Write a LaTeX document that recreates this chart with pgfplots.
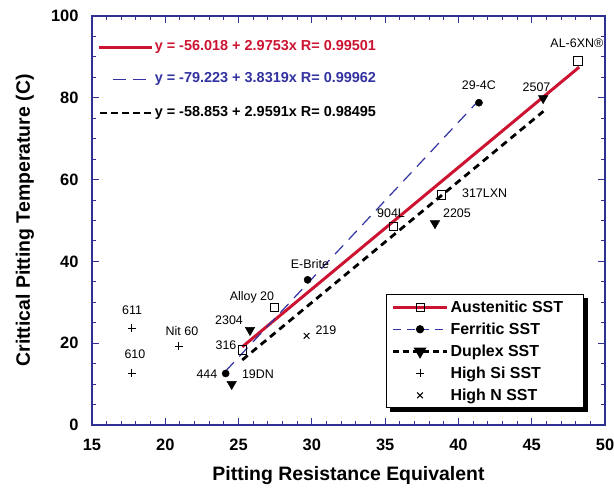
\documentclass[border=0pt]{standalone}
\usepackage{fontspec}
\setmainfont{Liberation Sans}
\usepackage{pgfplots}
\pgfplotsset{compat=1.18}

\definecolor{axisblue}{RGB}{46,49,146}
\definecolor{fitred}{RGB}{204,20,50}
\definecolor{fitblue}{RGB}{50,50,160}

\begin{document}
\begin{tikzpicture}
\path[use as bounding box] (0bp,0bp) rectangle (614bp,495bp);
\begin{axis}[
  at={(92bp,70bp)}, anchor=south west,
  scale only axis, width=513bp, height=409bp,
  xmin=15, xmax=50, ymin=0, ymax=100,
  xtick={15,20,25,30,35,40,45,50}, ytick={0,20,40,60,80,100},
  minor x tick num=4, minor y tick num=3,
  tick align=inside,
  major tick length=7bp, minor tick length=4bp,
  axis line style={draw=axisblue, line width=1.3bp},
  every tick/.append style={draw=axisblue, line width=1bp},
  ticklabel style={font=\bfseries\fontsize{16.5}{16.5}\selectfont, black},
  /pgf/number format/assume math mode=true,
  xticklabel style={yshift=-11bp},
  yticklabel style={xshift=-10bp},
  xlabel={Pitting Resistance Equivalent},
  ylabel={Crittical Pitting Temperature (C)},
  label style={font=\bfseries\fontsize{19.5}{19.5}\selectfont},
  xlabel style={at={(axis description cs:0.5,-0.1247)}, anchor=center},
  ylabel style={at={(axis description cs:-0.1306,0.5)}, anchor=center},
  legend style={name=leg, at={(0.573,0.320)}, anchor=north west, draw=black, line width=1.2bp,
    fill=white, font=\bfseries\fontsize{16}{16}\selectfont,
    inner xsep=5bp, inner ysep=4bp, row sep=5bp},
  legend cell align=left,
  legend image code/.code={\draw[mark repeat=2,mark phase=2,fill=none,#1] plot coordinates {(0bp,0bp) (27bp,0bp) (54bp,0bp)};},
  clip=false,
]
% data points
\addplot[only marks, mark=square, mark size=4.2bp, mark options={draw=black, fill=white, line width=1bp}, forget plot]
  coordinates {(25.25,18.3) (27.44,28.8) (35.55,48.5) (38.85,56.2) (48.15,89.0)};
\addplot[only marks, mark=*, mark size=3.6bp, mark options={black}, forget plot]
  coordinates {(24.12,12.6) (29.71,35.5) (41.4,78.8)};
\addplot[only marks, mark=triangle*, mark size=5.5bp, mark options={black, rotate=180}, forget plot]
  coordinates {(24.53,10.0) (25.78,23.2) (38.4,49.3) (45.78,79.9)};
\addplot[only marks, mark=+, mark size=4bp, mark options={black, line width=1bp}, forget plot]
  coordinates {(17.71,23.6) (17.71,12.6) (20.93,19.3)};
\addplot[only marks, mark=x, mark size=4bp, mark options={black, line width=1bp}, forget plot]
  coordinates {(29.64,21.8)};
% fitted lines
\addplot[fitred, line width=3bp, forget plot] coordinates {(25.25,19.1) (48.24,87.5)};
\addplot[fitblue, line width=1.2bp, dash pattern=on 12bp off 8bp, forget plot] coordinates {(24.12,13.2) (41.4,79.4)};
\addplot[black, line width=2.8bp, dash pattern=on 7bp off 5bp, forget plot] coordinates {(25.25,15.9) (45.8,76.7)};

\addlegendimage{draw=fitred, line width=3bp, mark=square, mark options={solid, draw=black, fill=white, line width=1bp, mark size=4bp}}
\addlegendentry{\makebox[126bp][l]{Austenitic SST}}
\addlegendimage{draw=fitblue, line width=1.2bp, dash pattern=on 8bp off 6bp, mark=*, mark options={solid, draw=black, fill=black, mark size=3.5bp}}
\addlegendentry{Ferritic SST}
\addlegendimage{draw=black, line width=2.5bp, dash pattern=on 6bp off 4bp, mark=triangle*, mark options={solid, draw=black, fill=black, rotate=180, mark size=5bp}}
\addlegendentry{Duplex SST}
\addlegendimage{only marks, mark=+, mark options={draw=black, line width=1bp, mark size=4bp}}
\addlegendentry{High Si SST}
\addlegendimage{only marks, mark=x, mark options={draw=black, line width=1bp, mark size=4bp}}
\addlegendentry{High N SST}

% equation key
\draw[fitred, line width=3bp] (axis cs:15.48,92.4) -- (axis cs:19.09,92.4);
\draw[fitblue, line width=1.2bp, dash pattern=on 13bp off 7bp] (axis cs:16.43,84.5) -- (axis cs:18.82,84.5);
\draw[black, line width=2.8bp, dash pattern=on 7bp off 4bp] (axis cs:15.55,76.3) -- (axis cs:19.09,76.3);
\begin{scope}[every node/.style={anchor=west, font=\bfseries\fontsize{14.5}{14.5}\selectfont, inner sep=1bp}]
\node[text=fitred] at (axis cs:19.2,92.4) {y = -56.018 + 2.9753x R= 0.99501};
\node[text=fitblue] at (axis cs:19.2,84.5) {y = -79.223 + 3.8319x R= 0.99962};
\node[text=black] at (axis cs:19.2,76.3) {y = -58.853 + 2.9591x R= 0.98495};
\end{scope}

% point labels
\begin{scope}[every node/.style={font=\fontsize{12.5}{12.5}\selectfont, inner sep=0bp}]
\node at (axis cs:48.08,93.4) {AL-6XN®};
\node at (axis cs:41.4,83.1) {29-4C};
\node at (axis cs:45.33,82.5) {2507};
\node[anchor=west] at (axis cs:40.24,56.7) {317LXN};
\node at (axis cs:35.4,51.8) {904L};
\node at (axis cs:39.9,51.8) {2205};
\node at (axis cs:29.87,39.4) {E-Brite};
\node at (axis cs:25.91,31.3) {Alloy 20};
\node at (axis cs:24.35,25.7) {2304};
\node at (axis cs:24.14,19.6) {316};
\node at (axis cs:22.84,12.5) {444};
\node at (axis cs:26.32,12.5) {19DN};
\node at (axis cs:30.96,23.2) {219};
\node at (axis cs:17.73,28.1) {611};
\node at (axis cs:17.93,17.4) {610};
\node at (axis cs:21.14,23.0) {Nit 60};
\end{scope}
\end{axis}
% legend shadow (bottom and right strips)
\fill[black] ([xshift=4bp]leg.south west) rectangle ([xshift=4bp,yshift=-4bp]leg.south east);
\fill[black] ([yshift=-4bp]leg.north east) rectangle ([xshift=4bp,yshift=-4bp]leg.south east);
\end{tikzpicture}
\end{document}
